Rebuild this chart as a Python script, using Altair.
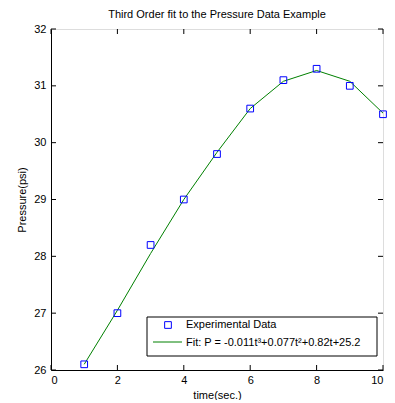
import altair as alt
import pandas as pd

# Data
time_s = [1, 2, 3, 4, 5, 6, 7, 8, 9, 10]
pressure = [26.1, 27.0, 28.2, 29.0, 29.8, 30.6, 31.1, 31.3, 31.0, 30.5]
fit_vals = [26.1, 27.05, 28.05, 29.0, 29.83, 30.6, 31.08, 31.27, 31.08, 30.52]
x_ticks = [0, 2, 4, 6, 8, 10]
y_ticks = [26, 27, 28, 29, 30, 31, 32]

title = "Third Order fit to the Pressure Data Example"
legend_data = "Experimental Data"
legend_fit = "Fit: P = -0.011t³+0.077t²+0.82t+25.2"

W, H = 332, 341
FONT = "Liberation Sans"

df = pd.DataFrame({"t": time_s, "p": pressure, "fit": fit_vals})
xt = pd.DataFrame({"v": x_ticks})
yt = pd.DataFrame({"v": y_ticks})

xs = alt.Scale(domain=[0, 10], nice=False, zero=False)
ys = alt.Scale(domain=[26, 32], nice=False, zero=False)

xaxis = alt.Axis(values=x_ticks, grid=False, ticks=False, labelPadding=4, format="d",
                 domainColor="black", labelColor="black", titleColor="black",
                 title="time(sec.)", titlePadding=4, titleFontWeight="normal",
                 labelFont=FONT, labelFontSize=11, titleFont=FONT, titleFontSize=11)
yaxis = alt.Axis(values=y_ticks, grid=False, ticks=False, labelPadding=5, format="d",
                 domainColor="black", labelColor="black", titleColor="black",
                 title="Pressure(psi)", titlePadding=6, titleFontWeight="normal",
                 labelFont=FONT, labelFontSize=11, titleFont=FONT, titleFontSize=11)

line = alt.Chart(df).mark_line(color="#008000", strokeWidth=1).encode(
    x=alt.X("t:Q", scale=xs, axis=xaxis),
    y=alt.Y("fit:Q", scale=ys, axis=yaxis),
)
pts = alt.Chart(df).mark_point(shape="square", color="#0000ff", filled=False,
                               size=45, strokeWidth=1, opacity=1).encode(
    x=alt.X("t:Q", scale=xs),
    y=alt.Y("p:Q", scale=ys),
)

tb = alt.Chart(xt).mark_rule(color="black").encode(
    x=alt.X("v:Q", scale=xs), y=alt.value(H), y2=alt.value(H - 5))
tt = alt.Chart(xt).mark_rule(color="black").encode(
    x=alt.X("v:Q", scale=xs), y=alt.value(0), y2=alt.value(5))
tl = alt.Chart(yt).mark_rule(color="black").encode(
    y=alt.Y("v:Q", scale=ys), x=alt.value(0), x2=alt.value(5))
tr = alt.Chart(yt).mark_rule(color="black").encode(
    y=alt.Y("v:Q", scale=ys), x=alt.value(W), x2=alt.value(W - 5))

# Legend box
one = pd.DataFrame({"a": [0]})
box = alt.Chart(one).mark_rect(fill="white", stroke="black", strokeWidth=1).encode(
    x=alt.value(96), x2=alt.value(326), y=alt.value(288), y2=alt.value(327))
lsq = alt.Chart(one).mark_point(shape="square", color="#0000ff", filled=False,
                                size=45, strokeWidth=1, opacity=1).encode(
    x=alt.value(117), y=alt.value(296))
lln = alt.Chart(one).mark_rule(color="#008000", strokeWidth=1).encode(
    x=alt.value(102), x2=alt.value(131), y=alt.value(313))
lt1 = alt.Chart(one).mark_text(text=legend_data, align="left", baseline="middle",
                               font=FONT, fontSize=11, color="black").encode(
    x=alt.value(135), y=alt.value(296))
lt2 = alt.Chart(one).mark_text(text=legend_fit, align="left", baseline="middle",
                               font=FONT, fontSize=11, color="black").encode(
    x=alt.value(135), y=alt.value(314))

chart = alt.layer(line, pts, tb, tt, tl, tr, box, lsq, lln, lt1, lt2).properties(
    width=W, height=H,
    title=alt.TitleParams(title, font=FONT, fontSize=11, fontWeight="normal",
                          color="black", offset=3),
    autosize=alt.AutoSizeParams(type="none"),
    padding={"left": 43, "top": 21, "right": 4, "bottom": 30},
).configure_view(stroke="black", strokeWidth=1).configure_axis(
    domainWidth=1,
).configure(background="white")

chart.save("out.html", embed_options={"renderer": "svg", "actions": False})
